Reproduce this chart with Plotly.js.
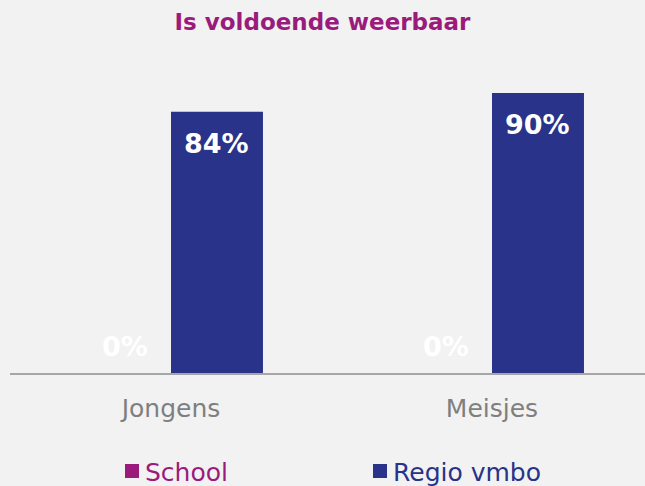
<!DOCTYPE html>
<html>
<head>
<meta charset="utf-8">
<script src="https://cdn.plot.ly/plotly-3.0.1.min.js"></script>
<style>
  html, body { margin: 0; padding: 0; background: #f2f2f2; }
  #chart { width: 645px; height: 486px; }
</style>
</head>
<body>
<div id="chart"></div>
<script>
// data
var categories = ['Jongens', 'Meisjes'];
var schoolValues = [0, 0];
var regioValues = [84, 90];
var seriesNames = ['School', 'Regio vmbo'];

var purple = '#9b1b7d';
var blue = '#283389';
var font = 'DejaVu Sans, sans-serif';

var xs = [0, 1]; // category positions

var school = {
    x: xs,
    y: schoolValues,
    type: 'bar',
    name: seriesNames[0],
    marker: {color: purple},
    hoverinfo: 'none'
};

var regio = {
    x: xs,
    y: regioValues,
    type: 'bar',
    name: seriesNames[1],
    marker: {color: blue},
    hoverinfo: 'none'
};

var bargap = 0.427;
var off = (1 - bargap) / 4;

// value labels, placed via the axes
var annotations = [];
xs.forEach(function (xv, i) {
    annotations.push({
        x: xv - off, y: schoolValues[i], xref: 'x', yref: 'y',
        text: '<b>' + schoolValues[i] + '%</b>', showarrow: false,
        yanchor: 'bottom', yshift: 9,
        font: {family: font, size: 27, color: '#ffffff'}
    });
    annotations.push({
        x: xv + off, y: regioValues[i], xref: 'x', yref: 'y',
        text: '<b>' + regioValues[i] + '%</b>', showarrow: false,
        yanchor: 'top', yshift: -14,
        font: {family: font, size: 27, color: '#ffffff'}
    });
});

// legend drawn by hand (plotly's own legend wraps into two rows here)
// paper coords: plot area is x 10..645, y 62..373 px
var plotL = 10, plotW = 635, plotB = 373, plotH = 311;
var legendX = [125, 373];
var legendColors = [purple, blue];
var shapes = [];
seriesNames.forEach(function (name, i) {
    shapes.push({
        type: 'rect', xref: 'paper', yref: 'paper',
        x0: (legendX[i] - plotL) / plotW, x1: (legendX[i] + 14 - plotL) / plotW,
        y0: (plotB - 478) / plotH, y1: (plotB - 464) / plotH,
        fillcolor: legendColors[i], line: {width: 0}
    });
    annotations.push({
        xref: 'paper', yref: 'paper',
        x: (legendX[i] + 18 - plotL) / plotW, y: (plotB - 472) / plotH,
        xanchor: 'left', yanchor: 'middle',
        text: name, showarrow: false,
        font: {family: font, size: 25, color: legendColors[i]}
    });
});

var layout = {
    width: 645,
    height: 486,
    paper_bgcolor: '#f2f2f2',
    plot_bgcolor: '#f2f2f2',
    margin: {l: plotL, r: 0, t: 62, b: 113},
    title: {
        text: '<b>Is voldoende weerbaar</b>',
        font: {family: font, size: 23, color: purple},
        x: 0.5, xanchor: 'center', y: 0.955, yanchor: 'middle'
    },
    barmode: 'group',
    bargap: bargap,
    bargroupgap: 0,
    showlegend: false,
    xaxis: {
        tickmode: 'array',
        tickvals: xs,
        ticktext: categories,
        range: [-161 / 321, 474 / 321],
        showline: true,
        linecolor: '#a6a6a6',
        linewidth: 2,
        ticks: '',
        showgrid: false,
        zeroline: false,
        tickfont: {family: font, size: 25, color: '#7f7f7f'},
        ticklabelstandoff: 12
    },
    yaxis: {
        range: [0, 100],
        visible: false,
        showgrid: false,
        zeroline: false
    },
    shapes: shapes,
    annotations: annotations
};

Plotly.newPlot('chart', [school, regio], layout, {displayModeBar: false, staticPlot: true});
</script>
</body>
</html>
